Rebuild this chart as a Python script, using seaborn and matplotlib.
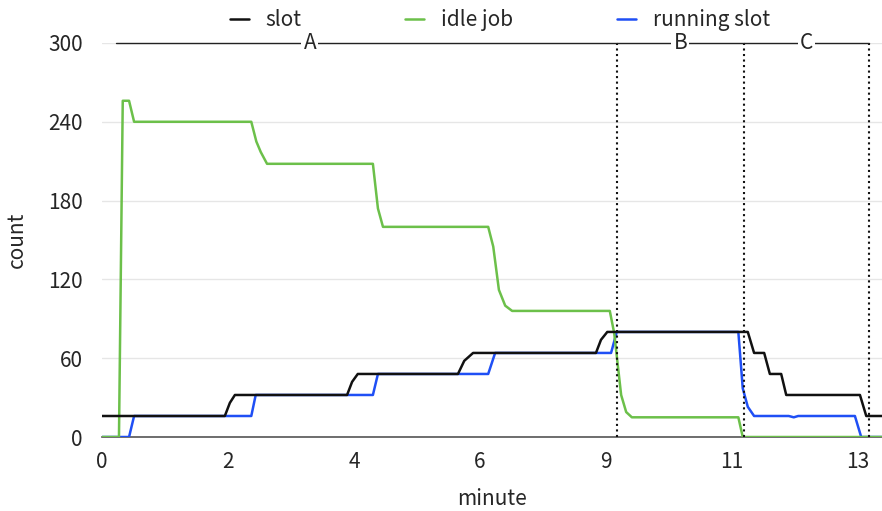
import pandas as pd
import matplotlib
matplotlib.use("Agg")
import matplotlib.pyplot as plt
import seaborn as sns

# data (x = sample position, ticks relabelled as minutes)
slot_x = [0, 1.95, 2.03, 2.11, 3.89, 3.97, 4.06, 5.65, 5.75, 5.89, 7.84, 7.92, 8.02,
          10.25, 10.35, 10.51, 10.6, 10.78, 10.86, 12.03, 12.13, 12.4]
slot_y = [16, 16, 26, 32, 32, 42, 48, 48, 58, 64, 64, 74, 80,
          80, 64, 64, 48, 48, 32, 32, 16, 16]

idle_x = [0, 0.27, 0.33, 0.43, 0.51, 2.37, 2.45, 2.52, 2.62, 4.30, 4.38, 4.46,
          6.13, 6.21, 6.30, 6.40, 6.51, 8.06, 8.13, 8.24, 8.32, 8.41, 10.1, 10.17, 12.4]
idle_y = [0, 0, 256, 256, 240, 240, 225, 217, 208, 208, 174, 160,
          160, 145, 112, 100, 96, 96, 79, 32, 19, 15, 15, 0, 0]

run_x = [0, 0.43, 0.51, 2.37, 2.44, 4.30, 4.38, 6.13, 6.24, 8.08, 8.17,
         10.1, 10.17, 10.25, 10.35, 10.9, 10.98, 11.05, 11.95, 12.05, 12.4]
run_y = [0, 0, 16, 16, 32, 32, 48, 48, 64, 64, 80,
         80, 37, 23, 16, 16, 15, 16, 16, 0, 0]

tick_pos = [0, 2, 4, 6, 8, 10, 12]
tick_labels = ["0", "2", "4", "6", "9", "11", "13"]

phase_names = ["A", "B", "C"]
phase_bounds = [0.22, 8.17, 10.19, 12.17]
phase_label_x = [3.3, 9.18, 11.18]

series_names = ["slot", "idle job", "running slot"]
series_colors = ["#111111", "#6cc04a", "#1f4ff5"]

frames = []
for name, xs, ys in zip(series_names, [slot_x, idle_x, run_x], [slot_y, idle_y, run_y]):
    frames.append(pd.DataFrame({"minute": xs, "count": ys, "series": name}))
df = pd.concat(frames, ignore_index=True)

sns.set_theme(style="white")
plt.rcParams["font.family"] = ["Noto Sans CJK KR", "DejaVu Sans"]

fig = plt.figure(figsize=(8.82, 5.11), dpi=100)
ax = fig.add_axes([0.1156, 0.1448, 0.8844, 0.7711])

sns.lineplot(data=df, x="minute", y="count", hue="series", hue_order=series_names,
             palette=series_colors, estimator=None, sort=False, linewidth=1.8, ax=ax)

# draw order: black on top, blue underneath
for line, z in zip(ax.lines[:3], [3.2, 3.0, 2.8]):
    line.set_zorder(z)

ax.set_xlim(0, 12.38)
ax.set_ylim(0, 300)
ax.set_yticks([0, 60, 120, 180, 240, 300])
ax.set_xticks(tick_pos)
ax.set_xticklabels(tick_labels)
ax.tick_params(labelsize=15, length=0)
ax.tick_params(axis="x", pad=10)
ax.tick_params(axis="y", pad=14)
ax.grid(axis="y", color="#e6e6e6", linewidth=1)
for s in ["top", "right", "left"]:
    ax.spines[s].set_visible(False)
ax.spines["bottom"].set_color("#555555")
ax.spines["bottom"].set_linewidth(1.2)

ax.set_xlabel("minute", fontsize=15, labelpad=11)
ax.set_ylabel("count", fontsize=15, labelpad=14)

# phase markers
for b in phase_bounds[1:]:
    ax.plot([b, b], [0, 300], color="#111111", linestyle=":", linewidth=1.5, zorder=4, clip_on=False)
for i, name in enumerate(phase_names):
    ax.plot([phase_bounds[i], phase_bounds[i + 1]], [300, 300], color="#222222",
            linewidth=1, zorder=4, clip_on=False)
    ax.text(phase_label_x[i], 300, name, fontsize=15, ha="center", va="center", zorder=5,
            bbox=dict(facecolor="white", edgecolor="none", pad=1.5))

sns.move_legend(ax, "lower center", bbox_to_anchor=(0.51, 0.982), ncol=3, frameon=False,
                title=None, fontsize=15, handlelength=0.9, columnspacing=5.0, handletextpad=0.8)

fig.savefig("out.png", dpi=100)
